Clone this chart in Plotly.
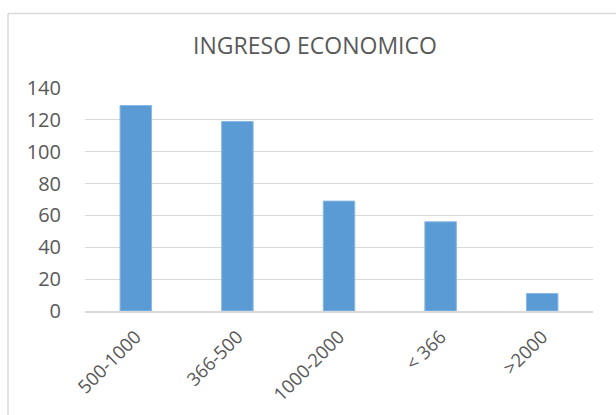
import plotly.graph_objects as go

categories = ["500-1000", "366-500", "1000-2000", "< 366", ">2000"]
values = [129, 119, 69, 56, 11]
y_ticks = [0, 20, 40, 60, 80, 100, 120, 140]
title_text = "INGRESO ECONOMICO"

L, R, T, B = 85, 23, 88, 104
W, H = 616, 415
pw, ph = W - L - R, H - T - B

fig = go.Figure(go.Bar(
    x=categories, y=values,
    marker=dict(color="#5B9BD5", line=dict(color="#8AB8E6", width=1)),
    width=0.31,
))

font_fam = "Open Sans, Liberation Sans, sans-serif"
fig.update_layout(
    width=W, height=H,
    margin=dict(l=L, r=R, t=T, b=B, pad=0),
    paper_bgcolor="white", plot_bgcolor="white",
    showlegend=False,
    title=dict(text=title_text, x=315 / W, xanchor="center",
               y=1 - 46 / H, yanchor="middle",
               font=dict(family=font_fam, size=23, color="#595959")),
    xaxis=dict(tickangle=-45, tickfont=dict(family=font_fam, size=18.5, color="#595959"),
               showline=True, linecolor="#D9D9D9", linewidth=1.5, automargin=False,
               ticks="", showgrid=False, ticklabelstandoff=6),
    yaxis=dict(range=[0, 140], tickvals=y_ticks, automargin=False,
               tickfont=dict(family=font_fam, size=20, color="#595959"),
               showgrid=True, gridcolor="#D9D9D9", gridwidth=1.2,
               zeroline=False, showline=False, ticks="", ticklabelstandoff=23),
    shapes=[
        dict(type="line", xref="paper", yref="paper",
             x0=(8 - L) / pw, x1=(W + 5 - L) / pw,
             y0=(H - B - 13.5) / ph, y1=(H - B - 13.5) / ph,
             line=dict(color="#D9D9D9", width=1.5)),
        dict(type="line", xref="paper", yref="paper",
             x0=(8 - L) / pw, x1=(8 - L) / pw,
             y0=(H - B - 13.5) / ph, y1=(H - B - H - 5) / ph,
             line=dict(color="#D9D9D9", width=1.5)),
    ],
)

fig.write_html("out.html", config={"displayModeBar": False},
               post_script="document.body.style.margin='0';document.body.style.overflow='hidden';")
